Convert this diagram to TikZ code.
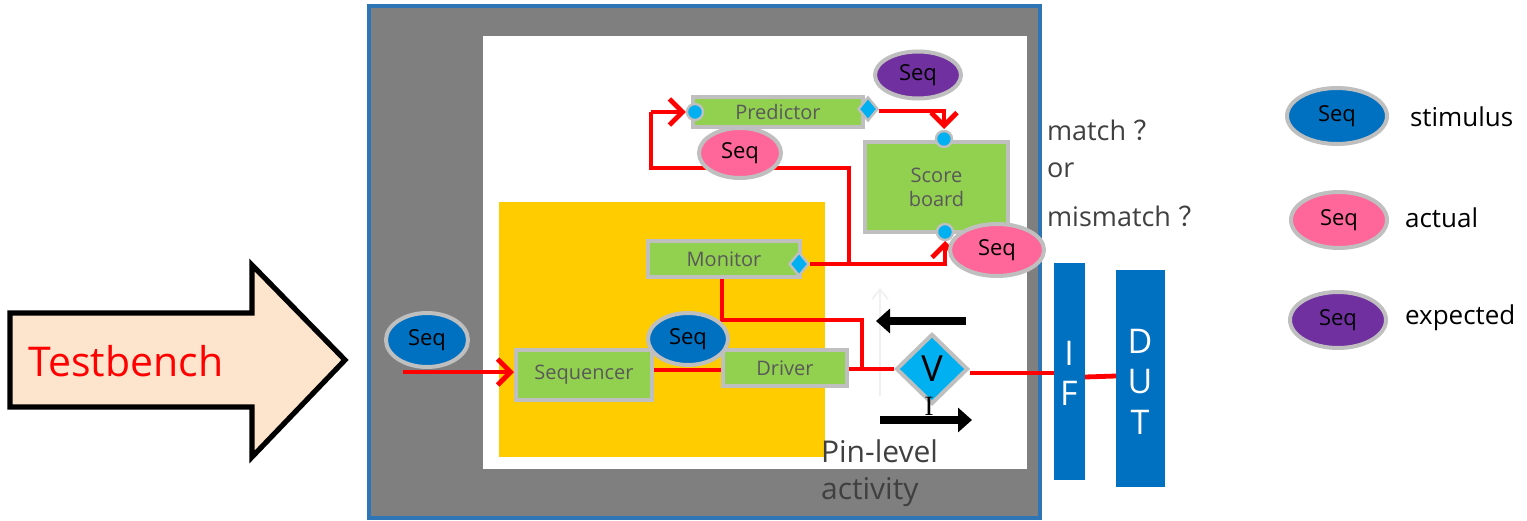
\documentclass[tikz,border=0pt]{standalone}
\usepackage{fontspec}
\setmainfont{Open Sans}
\newfontfamily\serifI{Liberation Serif}
\newfontfamily\cjk{Noto Sans CJK SC}
\usetikzlibrary{arrows.meta,shapes.geometric}

\definecolor{frameblue}{HTML}{2E75B6}
\definecolor{envgray}{HTML}{7F7F7F}
\definecolor{agentyellow}{HTML}{FFCC00}
\definecolor{compgreen}{HTML}{92D050}
\definecolor{edgegray}{HTML}{BFBFBF}
\definecolor{portcyan}{HTML}{00B0F0}
\definecolor{seqblue}{HTML}{0070C0}
\definecolor{seqpink}{HTML}{FF6699}
\definecolor{seqpurple}{HTML}{7030A0}
\definecolor{peach}{HTML}{FDE4CC}
\definecolor{labelgray}{HTML}{595959}
\definecolor{textdark}{HTML}{404040}

\tikzset{
  comp/.style={draw=edgegray, line width=2pt, fill=compgreen, text=labelgray,
    font=\fontsize{10}{12}\selectfont, inner sep=0pt, align=center},
  seqnode/.style={ellipse, draw=edgegray, line width=2pt, inner sep=0pt,
    font=\fontsize{11}{13}\selectfont, text=black},
  port/.style={circle, fill=portcyan, draw=edgegray, line width=1.2pt,
    minimum size=8pt, inner sep=0pt},
  pdiam/.style={diamond, fill=portcyan, draw=edgegray, line width=1.2pt,
    minimum width=10pt, minimum height=12pt, inner sep=0pt},
  wire/.style={red, line width=2.4pt},
  wirearrow/.style={wire, -{Straight Barb[length=6.5pt,width=13pt,line width=2.4pt]}},
  bigarrow/.style={black, line width=4pt, -{Triangle[length=7pt,width=12pt]}},
  legendtext/.style={anchor=west, font=\fontsize{13}{15}\selectfont, text=black},
  note/.style={anchor=west, font=\fontsize{13.5}{16}\selectfont, text=textdark},
  busletter/.style={text=white, font=\fontsize{17}{20}\selectfont},
}

\begin{document}
\begin{tikzpicture}[x=0.5pt,y=-0.5pt]
\useasboundingbox (0,0) rectangle (1527,520);

% Testbench arrow
\draw[line width=2.6pt, fill=peach, line join=miter]
  (10,313) -- (252,313) -- (252,265) -- (345,360) -- (252,457) -- (252,407) -- (10,407) -- cycle;
\node[text=red, font=\fontsize{20.5}{24}\selectfont] (tb) at (126,361) {Testbench};

% environment frame
\draw[frameblue, line width=1.6pt, fill=envgray] (369,6) rectangle (1040,518);
\fill[white] (483,36) rectangle (1027,469);
\fill[agentyellow] (499,202) rectangle (825,457);

% components
\node[comp, minimum width=85pt, minimum height=15pt] (pred) at (778,112) {Predictor};
\node[comp, minimum width=71.5pt, minimum height=45pt] (sb) at (936.5,187) {Score\\board};
\node[comp, minimum width=76pt, minimum height=18pt] (mon) at (724,259) {Monitor};
\node[comp, minimum width=68pt, minimum height=25pt] (sqr) at (584,375) {Sequencer};
\node[comp, minimum width=62pt, minimum height=18pt] (drv) at (785,368) {Driver};

% ports
\node[port] (predin) at (695,112) {};
\node[pdiam] (predout) at (868,109) {};
\node[port] (sbtop) at (944,139) {};
\node[port] (sbbot) at (945,232) {};
\node[pdiam] (monout) at (799,264) {};

% interface and DUT
\fill[seqblue] (1054,263) rectangle (1085,480);
\fill[seqblue] (1116,270) rectangle (1165,487);
\coordinate (ifl) at (1054,373);
\coordinate (ifr) at (1085,377);
\coordinate (dutl) at (1116,376);
\node[busletter] (ifI) at (1069,353) {I};
\node[busletter] (ifF) at (1069,393) {F};
\node[busletter] (dutD) at (1140,341) {D};
\node[busletter] (dutU) at (1140,382) {U};
\node[busletter] (dutT) at (1140,422) {T};

% pin-level virtual interface
\node[diamond, fill=portcyan, draw=edgegray, line width=2pt, minimum width=36pt,
  minimum height=35pt, inner sep=0pt, font=\fontsize{18}{20}\selectfont] (vif) at (932,369) {V};

% faint pin arrow
\coordinate (fa1) at (880,396);
\coordinate (fa2) at (880,288);
\draw[black!6, line width=0.8pt, -{Straight Barb[length=5pt,width=8pt]}] (fa1) -- (fa2);

% red transaction wires
\coordinate (inS) at (403,372);
\draw[wirearrow] (inS) -- (sqr.west |- inS);
\draw[wire] (sqr.east |- 0,370) -- (drv.west |- 0,370);
\draw[wire] (drv.east |- 0,369) -- (vif.west);
\draw[wire] (vif.east |- 0,373) -- (ifl);
\draw[wire] (ifr) -- (dutl);
\coordinate (mt) at (722,320);
\coordinate (mj) at (862,320);
\draw[wire] (mon.south -| mt) -- (mt) -- (mj) -- (mj |- 0,369);
\coordinate (sbk) at (945,264);
\draw[wirearrow] (monout.east) -- (sbk) -- (sbbot.south |- 0,241);
\coordinate (lp1) at (849,264);
\coordinate (lp2) at (849,168);
\coordinate (lp3) at (651,168);
\coordinate (lp4) at (651,112);
\draw[wire, line join=miter] (lp1) -- (lp2) -- (lp3) -- (lp4);
\draw[wirearrow] (lp4) -- (predin.west);
\coordinate (pk) at (944,111);
\draw[wirearrow] (predout.east |- pk) -- (pk) -- (944,129);

% sequence items
\node[seqnode, fill=seqpurple, minimum width=43pt, minimum height=23.5pt] (sqexp) at (918,75) {Seq};
\node[seqnode, fill=seqpink, minimum width=41pt, minimum height=25pt] (sqact) at (740,153) {Seq};
\node[seqnode, fill=seqpink, minimum width=47pt, minimum height=26pt] (sqsb) at (997,250) {Seq};
\node[seqnode, fill=seqblue, minimum width=41pt, minimum height=27pt] (sqin) at (427,340) {Seq};
\node[seqnode, fill=seqblue, minimum width=40pt, minimum height=26pt] (sqdrv) at (688,339) {Seq};

% pin-level activity arrows
\node[font=\serifI\fontsize{14}{16}\selectfont, text=black, inner sep=0pt] (vI) at (929,406) {I};
\coordinate (ua1) at (966,321);
\coordinate (ua2) at (876,321);
\coordinate (da1) at (880,420);
\coordinate (da2) at (972,420);
\draw[bigarrow] (ua1) -- (ua2);
\draw[bigarrow] (da1) -- (da2);
\node[note, align=left, text=textdark, font=\fontsize{15}{18.5}\selectfont] (pin) at (814,473) {Pin-level\\activity};

% scoreboard question
\node[note] (q1) at (1040,130) {match {\cjk ？}};
\node[note] (q2) at (1040,170) {or};
\node[note] (q3) at (1040,216) {mismatch {\cjk ？}};

% legend
\node[seqnode, fill=seqblue, minimum width=50pt, minimum height=28pt] (lg1) at (1337,116) {Seq};
\node[seqnode, fill=seqpink, minimum width=48pt, minimum height=28pt] (lg2) at (1339,220) {Seq};
\node[seqnode, fill=seqpurple, minimum width=48pt, minimum height=28pt] (lg3) at (1338,320) {Seq};
\node[legendtext] (lt1) at (1403,117) {stimulus};
\node[legendtext] (lt2) at (1398,218) {actual};
\node[legendtext] (lt3) at (1398,318) {expected};
\end{tikzpicture}
\end{document}
